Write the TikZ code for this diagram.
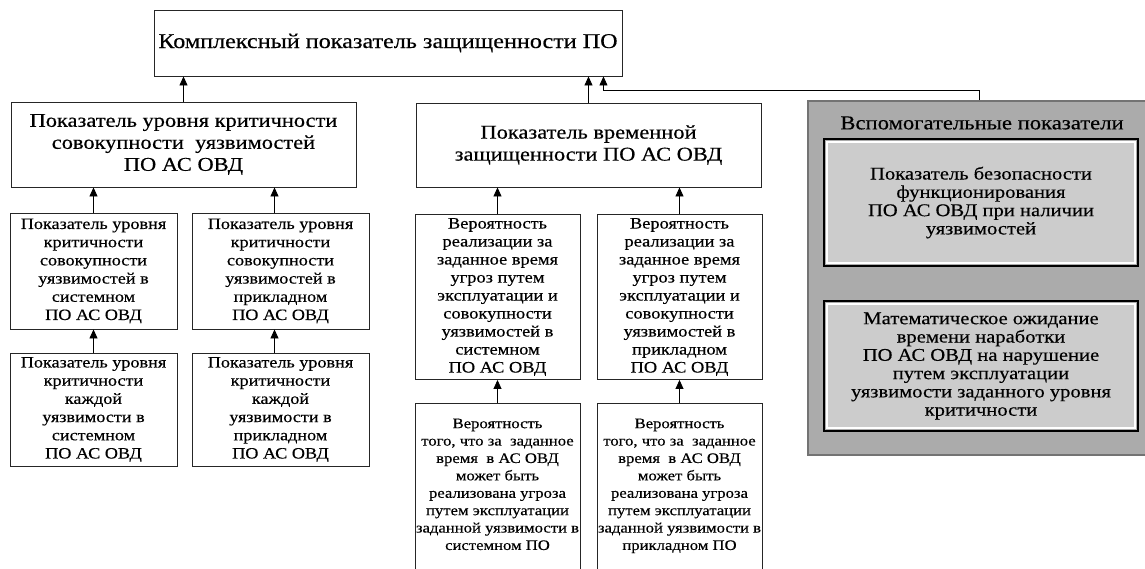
\documentclass[tikz,border=0pt]{standalone}
\usepackage{fontspec}
\setmainfont{Liberation Serif}[FakeStretch=1.15,FakeBold=0.35]
\usetikzlibrary{arrows.meta}
\begin{document}
\begin{tikzpicture}[x=1pt,y=-1pt,
  box/.style={draw=black!85, line width=0.9pt, align=center, inner sep=0pt, fill=white},
  arr/.style={line width=0.8pt, -{Triangle[length=9pt,width=8pt]}},
  ftop/.style={font=\fontsize{21}{26}\selectfont},
  ftwo/.style={font=\fontsize{19.5}{22}\selectfont},
  fsm/.style={font=\fontsize{15.8}{18.2}\selectfont},
  fmid/.style={font=\fontsize{16}{18}\selectfont},
  fvs/.style={font=\fontsize{14.5}{17.4}\selectfont},
  faux/.style={font=\fontsize{19.7}{20}\selectfont},
  fin/.style={font=\fontsize{17.9}{18.3}\selectfont},
  innerbox/.style={fill=black!20, draw=white, line width=2pt, align=center, inner sep=0pt, minimum width=308pt},
  frame/.style={draw=black, line width=1.2pt}
]
\useasboundingbox (0,0) rectangle (1145,569);
% top
\node[box, ftop, minimum width=468pt, minimum height=66pt] (top) at (388,43) {Комплексный показатель защищенности ПО};
% level 2
\node[box, ftwo, minimum width=345pt, minimum height=85pt] (L2a) at (183.5,144.5) {Показатель уровня критичности\\совокупности\ \ уязвимостей\\ПО АС ОВД};
\node[box, ftwo, minimum width=345pt, minimum height=84pt] (L2b) at (588.5,145) {Показатель временной\\защищенности ПО АС ОВД};
% level 3 left
\node[box, fsm, minimum width=167pt, minimum height=116pt] (L3a) at (93.5,271) {Показатель уровня\\критичности\\совокупности\\уязвимостей в\\системном\\ПО АС ОВД};
\node[box, fsm, minimum width=177pt, minimum height=116pt] (L3b) at (280.5,271) {Показатель уровня\\критичности\\совокупности\\уязвимостей в\\прикладном\\ПО АС ОВД};
% level 4 left
\node[box, fsm, minimum width=167pt, minimum height=113pt] (L4a) at (93.5,409.5) {Показатель уровня\\критичности\\каждой\\уязвимости в\\системном\\ПО АС ОВД};
\node[box, fsm, minimum width=177pt, minimum height=113pt] (L4b) at (280.5,409.5) {Показатель уровня\\критичности\\каждой\\уязвимости в\\прикладном\\ПО АС ОВД};
% level 3 middle
\node[box, fmid, minimum width=165pt, minimum height=165pt] (M3a) at (497.5,297) {Вероятность\\реализации за\\заданное время\\угроз путем\\эксплуатации и\\совокупности\\уязвимостей в\\системном\\ПО АС ОВД};
\node[box, fmid, minimum width=165pt, minimum height=165pt] (M3b) at (679.5,297) {Вероятность\\реализации за\\заданное время\\угроз путем\\эксплуатации и\\совокупности\\уязвимостей в\\прикладном\\ПО АС ОВД};
% level 4 middle
\node[box, fvs, minimum width=165pt, minimum height=180pt] (M4a) at (497.5,493) {Вероятность\\того, что за\ \ заданное\\время\ \ в АС ОВД\\может быть\\реализована угроза\\путем эксплуатации\\заданной уязвимости в\\системном ПО\\ \mbox{}};
\node[box, fvs, minimum width=165pt, minimum height=180pt] (M4b) at (679.5,493) {Вероятность\\того, что за\ \ заданное\\время\ \ в АС ОВД\\может быть\\реализована угроза\\путем эксплуатации\\заданной уязвимости в\\прикладном ПО\\ \mbox{}};
% auxiliary
\node[draw=black!55, fill=black!33, line width=1.5pt, minimum width=342pt, minimum height=354pt, inner sep=0pt] (aux) at (979,278) {};
\node[faux, inner sep=0pt] (auxt) at (982,123) {Вспомогательные показатели};
\node[innerbox, fin, minimum height=121pt] (I1) at (981,202.5) {Показатель безопасности\\функционирования\\ПО АС ОВД при наличии\\уязвимостей};
\draw[frame] ([shift={(-2,-2)}]I1.north west) rectangle ([shift={(2,2)}]I1.south east);
\node[innerbox, fin, minimum height=124pt] (I2) at (981,366) {Математическое ожидание\\времени наработки\\ПО АС ОВД на нарушение\\путем эксплуатации\\уязвимости заданного уровня\\критичности};
\draw[frame] ([shift={(-2,-2)}]I2.north west) rectangle ([shift={(2,2)}]I2.south east);
% connectors
\draw[arr] (L2a.north) -- (L2a.north |- top.south);
\draw[arr] (L2b.north) -- (L2b.north |- top.south);
\draw[arr] (aux.north) -- ++(0,-10) -| ([xshift=-19pt]top.south east);
\draw[arr] (L3a.north) -- (L3a.north |- L2a.south);
\draw[arr] ([xshift=-6pt]L3b.north) -- ([xshift=-6pt]L3b.north |- L2a.south);
\draw[arr] (L4a.north) -- (L4a.north |- L3a.south);
\draw[arr] ([xshift=-6pt]L4b.north) -- ([xshift=-6pt]L4b.north |- L3b.south);
\draw[arr] (M3a.north) -- (M3a.north |- L2b.south);
\draw[arr] (M3b.north) -- (M3b.north |- L2b.south);
\draw[arr] (M4a.north) -- (M4a.north |- M3a.south);
\draw[arr] (M4b.north) -- (M4b.north |- M3b.south);
\end{tikzpicture}
\end{document}
